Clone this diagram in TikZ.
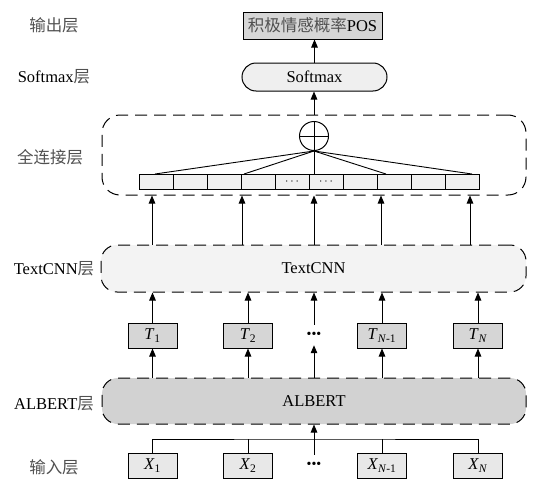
\documentclass[tikz,border=0pt]{standalone}
\usepackage{fontspec}
\setmainfont{Liberation Serif}
\newfontfamily\cjk{Noto Sans CJK SC}
\usetikzlibrary{arrows.meta}
\definecolor{cjkgray}{HTML}{505050}
\definecolor{outgray}{HTML}{D6D6D6}
\definecolor{softgray}{HTML}{EFEFEF}
\definecolor{cellgray}{HTML}{F0F0F0}
\definecolor{cnngray}{HTML}{F3F3F3}
\definecolor{tgray}{HTML}{D6D6D6}
\definecolor{albgray}{HTML}{D2D2D2}
\definecolor{xgray}{HTML}{E8E8E8}
\newcommand{\zh}[1]{{\cjk\color{cjkgray}#1}}
\begin{document}
\begin{tikzpicture}[x=1pt,y=-1pt,
  font=\fontsize{16.5}{19}\selectfont,
  arr/.style={-{Triangle[length=8pt,width=6.5pt]}, line width=1pt},
  solidbox/.style={draw, line width=1pt, inner sep=0pt, minimum height=25pt},
  tbox/.style={solidbox, fill=tgray, minimum width=49pt},
  xbox/.style={solidbox, fill=xgray, minimum width=49pt},
  dashbox/.style={draw, dash pattern=on 12pt off 7pt, line width=1pt, rounded corners=16pt, inner sep=0pt},
  cell/.style={draw, fill=cellgray, minimum width=34pt, minimum height=15pt, inner sep=0pt, line width=0.9pt},
  lab/.style={inner sep=0pt},
  dotnode/.style={inner sep=0pt, minimum height=20pt, font=\fontsize{14}{14}\selectfont},
  fan/.style={line width=0.9pt}
]
\useasboundingbox (0,0) rectangle (539,479);

% left labels
\node[lab] (l1) at (54,25) {\zh{输出层}};
\node[lab] (l2) at (54,77) {Softmax\zh{层}};
\node[lab] (l3) at (50,157) {\zh{全连接层}};
\node[lab] (l4) at (54,269) {TextCNN\zh{层}};
\node[lab] (l5) at (54,404) {ALBERT\zh{层}};
\node[lab] (l6) at (54,467) {\zh{输入层}};

% output and softmax
\node[solidbox, fill=outgray, minimum width=139pt, minimum height=27pt] (out) at (312.5,25.5) {\zh{积极情感概率}POS};
\node[draw, line width=1pt, fill=softgray, rounded corners=14pt, minimum width=145pt, minimum height=28pt, inner sep=0pt] (soft) at (314.5,77) {Softmax};

% fully connected layer
\node[dashbox, rounded corners=18pt, minimum width=424pt, minimum height=80pt] (fc) at (314,155) {};
\foreach \i in {0,...,9} \node[cell] (c\i) at ({156+34*\i},181.5) {};
\node[inner sep=0pt, font=\fontsize{12}{12}\selectfont] (dd4) at (c4) {$\cdots$};
\node[inner sep=0pt, font=\fontsize{12}{12}\selectfont] (dd5) at (c5) {$\cdots$};
\node[draw, circle, line width=1pt, minimum size=29pt, inner sep=0pt, fill=white] (circ) at (314,136) {};
\draw[line width=1pt] (circ.north) -- (circ.south) (circ.west) -- (circ.east);
\coordinate (e1) at (155,174);
\coordinate (e2) at (244,174);
\coordinate (e3) at (314,174);
\coordinate (e4) at (386,174);
\coordinate (e5) at (472,174);
\foreach \e in {e1,e2,e3,e4,e5} \draw[fan] (circ.south) -- (\e);

% arrows to softmax / output
\draw[arr] (circ.north |- fc.north) -- (circ.north |- soft.south);
\draw[arr] (soft.north) -- (soft.north |- out.south);

% TextCNN
\node[dashbox, fill=cnngray, minimum width=425pt, minimum height=47pt] (tcnn) at (313.5,268.5) {TextCNN};
\coordinate (k1) at (152,0);
\coordinate (k2) at (242,0);
\coordinate (k3) at (314,0);
\coordinate (k4) at (381,0);
\coordinate (k5) at (470,0);
\foreach \k in {k1,k2,k3,k4,k5} \draw[arr] (tcnn.north -| \k) -- (fc.south -| \k);

% T row
\node[tbox] (t1) at (152.5,335.5) {\textit{T}\textsubscript{1}};
\node[tbox] (t2) at (248,335.5) {\textit{T}\textsubscript{2}};
\node[dotnode] (d1) at (314,335) {•••};
\node[tbox] (t3) at (382,335.5) {\textit{T}\textsubscript{\textit{N}-1}};
\node[tbox] (t4) at (478,335.5) {\textit{T}\textsubscript{\textit{N}}};
\foreach \n in {t1,t2,d1,t3,t4} \draw[arr] (\n.north) -- (\n.north |- tcnn.south);

% ALBERT
\node[dashbox, fill=albgray, minimum width=424pt, minimum height=46pt] (alb) at (314,401) {ALBERT};
\foreach \n in {t1,t2,d1,t3,t4} \draw[arr] (\n.south |- alb.north) -- (\n.south);

% X row
\node[xbox] (x1) at (152.5,465.5) {\textit{X}\textsubscript{1}};
\node[xbox] (x2) at (248,465.5) {\textit{X}\textsubscript{2}};
\node[dotnode] (d2) at (314,465) {•••};
\node[xbox] (x3) at (382,465.5) {\textit{X}\textsubscript{\textit{N}-1}};
\node[xbox] (x4) at (478,465.5) {\textit{X}\textsubscript{\textit{N}}};
\coordinate (bus) at (314,439);
\draw[line width=1pt] (x1.north) |- (bus) -| (x4.north);
\draw[line width=1pt] (x2.north) -- (x2.north |- bus);
\draw[line width=1pt] (x3.north) -- (x3.north |- bus);
\draw[arr] (d2.north) -- (d2.north |- alb.south);
\end{tikzpicture}
\end{document}
